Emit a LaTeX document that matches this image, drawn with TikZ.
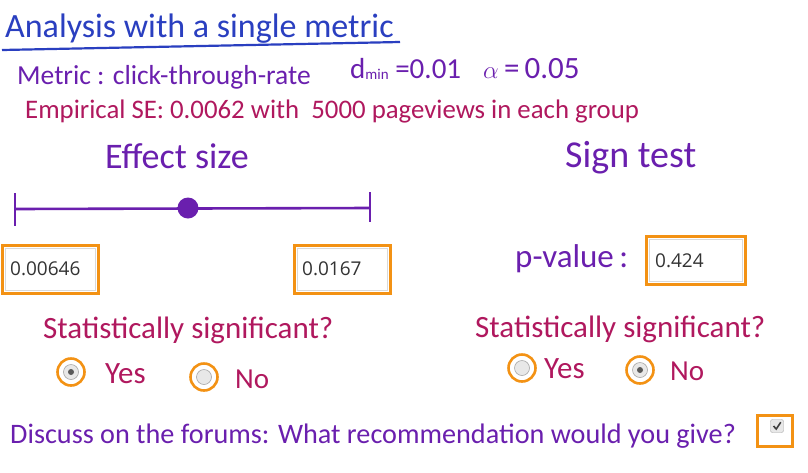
\documentclass[tikz,border=0pt]{standalone}
\usepackage{fontspec}
\setmainfont{Carlito}
\newfontfamily\boxfont{Open Sans}
\definecolor{titleblue}{HTML}{2A3FC0}
\definecolor{hwpurple}{HTML}{6A1FAE}
\definecolor{hwcrimson}{HTML}{B0185E}
\definecolor{uiorange}{HTML}{F39214}
\definecolor{boxtext}{HTML}{333333}
\newcommand{\fs}[1]{\fontsize{#1}{#1}\selectfont}
\begin{document}
\begin{tikzpicture}[x=1pt,y=-1pt,
  hw/.style={inner sep=0pt, anchor=base west},
  purp/.style={hw, text=hwpurple},
  crim/.style={hw, text=hwcrimson},
  valbox/.style={draw=uiorange, line width=2.8pt, fill=white, inner sep=0pt, anchor=north west},
  valinner/.style={draw=gray!30, line width=0.8pt, inner sep=0pt},
  valtext/.style={inner sep=0pt, anchor=base west, text=boxtext, font=\boxfont\fs{19}},
  radioout/.style={circle, draw=uiorange, line width=2.6pt, minimum size=27pt, inner sep=0pt},
  radioin/.style={circle, draw=gray!70, fill=gray!18, line width=0.6pt, minimum size=15pt, inner sep=0pt},
  radiodot/.style={circle, fill=black!65, minimum size=6pt, inner sep=0pt},
  scale line/.style={draw=hwpurple, line width=2.6pt}
]
\useasboundingbox (0,0) rectangle (808,472);
\fill[white] (0,0) rectangle (808,472);

% title
\node[hw, text=titleblue, font=\fs{34}] (title) at (5,37) {Analysis with a single metric};
\coordinate (ulA) at (2,50);
\coordinate (ulB) at (400,42);
\draw[titleblue, line width=2.2pt] (ulA) -- (ulB);

% metric line
\node[purp, font=\fs{27.5}] (metric) at (17,84) {Metric : click-through-rate};
\node[purp, font=\fs{29}] (dmin) at (350,78) {d\raisebox{-1pt}{\fs{15}min} =0.01};
\node[purp, font=\fs{31}] (alpha) at (483,78) {$\alpha$\,=\,0.05};

\node[crim, font=\fs{26.8}] (se) at (25,118) {Empirical SE: 0.0062 with\ \ 5000 pageviews in each group};

% headings
\node[purp, font=\fs{36}] (effect) at (105,168) {Effect size};
\node[purp, font=\fs{38}] (sign) at (565,167) {Sign test};

% effect size interval
\coordinate (L) at (15,209);
\coordinate (R) at (370,208);
\coordinate (Lt) at (15,193);
\coordinate (Lb) at (15,226);
\coordinate (Rt) at (370,192);
\coordinate (Rb) at (370,222);
\draw[scale line] (L) -- (R);
\draw[scale line] (Lt) -- (Lb);
\draw[scale line] (Rt) -- (Rb);
\node[circle, fill=hwpurple, minimum size=21pt, inner sep=0pt] (pt) at (188,208) {};

% value boxes
\node[valbox, minimum width=96pt, minimum height=48pt] (lowbox) at (1,244) {};
\node[valinner, minimum width=90pt, minimum height=42pt] at (lowbox) {};
\node[valtext] (lowval) at (10,275) {0.00646};
\node[valbox, minimum width=96pt, minimum height=48pt] (highbox) at (293,244) {};
\node[valinner, minimum width=90pt, minimum height=42pt] at (highbox) {};
\node[valtext] (highval) at (302,275) {0.0167};

\node[purp, font=\fs{33}] (pv) at (515,267) {p-value\,:};
\node[valbox, minimum width=99pt, minimum height=48pt] (pbox) at (645,235) {};
\node[valinner, minimum width=93pt, minimum height=42pt] at (pbox) {};
\node[valtext] (pval) at (655,267) {0.424};

% significance questions
\node[crim, font=\fs{31}] (sigL) at (43,338) {Statistically significant?};
\node[crim, font=\fs{31}] (sigR) at (475,337) {Statistically significant?};

% radios left
\node[radioout] (ryl) at (71,372) {};
\node[radioin] at (ryl) {};
\node[radiodot] at (ryl) {};
\node[crim, font=\fs{31}] (yesL) at (105,383) {Yes};
\node[radioout] (rnl) at (204,377) {};
\node[radioin] at (rnl) {};
\node[crim, font=\fs{29}] (noL) at (235,388) {No};

% radios right
\node[radioout] (ryr) at (522,368) {};
\node[radioin] at (ryr) {};
\node[crim, font=\fs{31}] (yesR) at (544,378) {Yes};
\node[radioout] (rnr) at (640,370) {};
\node[radioin] at (rnr) {};
\node[radiodot] at (rnr) {};
\node[crim, font=\fs{29}] (noR) at (670,380) {No};

% discuss
\node[purp, font=\fs{28.2}] (discuss) at (10,443) {Discuss on the forums: What recommendation would you give?};
\node[draw=uiorange, line width=2.8pt, fill=white, minimum width=35pt, minimum height=31pt, inner sep=0pt] (cb) at (775,431) {};
\node[draw=gray!70, fill=gray!18, rounded corners=2pt, minimum size=13pt, inner sep=0pt] (cbin) at (777,426) {};
\draw[black!75, line width=1.6pt] ([shift={(-3.5,0)}]cbin.center) -- ([shift={(-0.8,3)}]cbin.center) -- ([shift={(3.8,-3.8)}]cbin.center);
\end{tikzpicture}
\end{document}
